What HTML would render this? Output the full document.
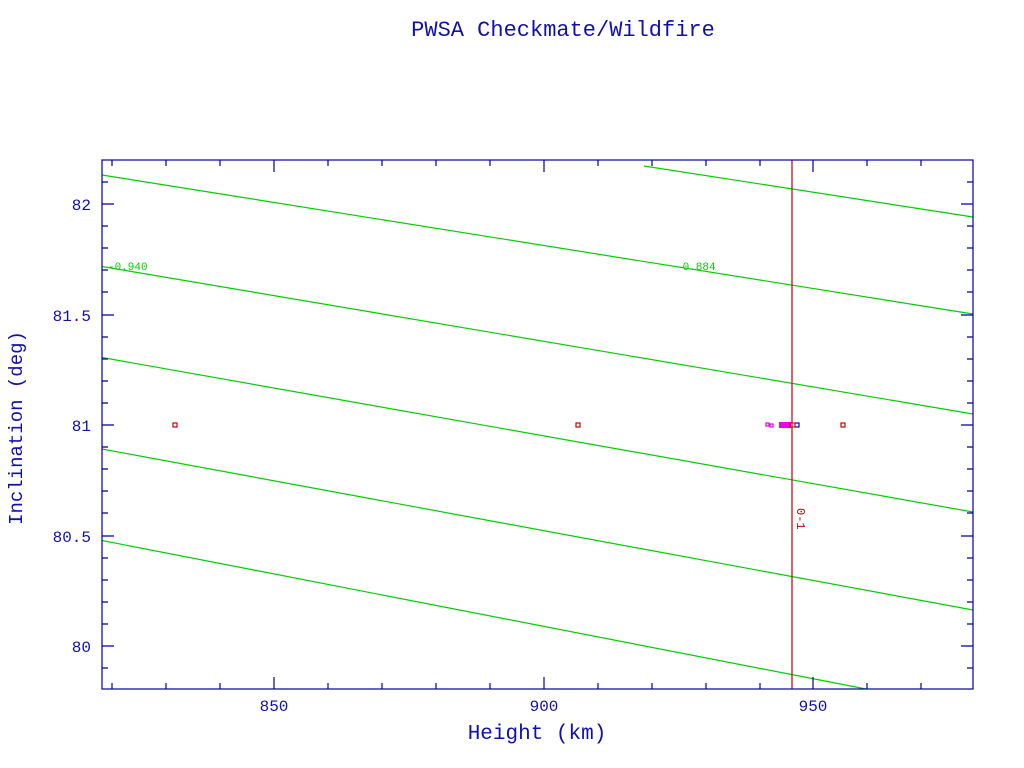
<!DOCTYPE html>
<html><head><style>body{margin:0;background:#fff}svg{display:block}</style></head><body>
<svg width="1024" height="768" xmlns="http://www.w3.org/2000/svg" font-family="Liberation Mono, DejaVu Sans Mono, monospace">
<rect width="1024" height="768" fill="#fff"/>
<text x="563" y="36" fill="#1010b0" font-size="22" text-anchor="middle">PWSA Checkmate/Wildfire</text>
<g stroke="#00d000" stroke-width="1.2" fill="none">
<line x1="102" y1="175" x2="973" y2="314"/>
<line x1="102" y1="266.5" x2="973" y2="414"/>
<line x1="102" y1="357.5" x2="973" y2="512"/>
<line x1="102" y1="449" x2="973" y2="610"/>
<line x1="102" y1="540.5" x2="866" y2="689"/>
<line x1="644" y1="166" x2="973" y2="217"/>
</g>
<g fill="#00d000" font-size="11"><text x="108" y="270">-0.940</text><text x="676" y="270">-0.884</text></g>
<line x1="792" y1="160" x2="792" y2="689" stroke="#c00000" stroke-width="1.2"/>
<text transform="translate(797,508) rotate(90)" fill="#c00000" font-size="12">0-1</text>
<g fill="none" stroke-width="1.2">
<rect x="173" y="423" width="4" height="4" stroke="#d00000"/>
<rect x="576" y="423" width="4" height="4" stroke="#d00000"/>
<rect x="841" y="423" width="4" height="4" stroke="#d00000"/>
<rect x="766" y="423" width="3" height="3" stroke="#e000e0"/>
<rect x="770" y="424" width="3" height="3" stroke="#e000e0"/>
<rect x="795" y="423" width="4" height="4" stroke="#0000c0"/>
</g>
<rect x="779" y="422" width="12" height="6" fill="#f000f0"/>
<rect x="790" y="423" width="5" height="4" fill="none" stroke="#d00000"/>
<rect x="102" y="160" width="871" height="529" fill="none" stroke="#0000a0" stroke-width="1.2"/>
<g stroke="#0000a0" stroke-width="1.2">
<path d="M112,689v-6M166,689v-6M220,689v-6M274,689v-12M328,689v-6M382,689v-6M436,689v-6M490,689v-6M544,689v-12M598,689v-6M652,689v-6M706,689v-6M760,689v-6M813,689v-12M867,689v-6M921,689v-6
M112,160v6M166,160v6M220,160v6M274,160v12M328,160v6M382,160v6M436,160v6M490,160v6M544,160v12M598,160v6M652,160v6M706,160v6M760,160v6M813,160v12M867,160v6M921,160v6
M102,182h6M102,204h12M102,226h6M102,248h6M102,270h6M102,292h6M102,315h12M102,337h6M102,359h6M102,381h6M102,403h6M102,425h12M102,447h6M102,469h6M102,491h6M102,513h6M102,536h12M102,558h6M102,580h6M102,602h6M102,624h6M102,646h12M102,668h6
M973,182h-6M973,204h-12M973,226h-6M973,248h-6M973,270h-6M973,292h-6M973,315h-12M973,337h-6M973,359h-6M973,381h-6M973,403h-6M973,425h-12M973,447h-6M973,469h-6M973,491h-6M973,513h-6M973,536h-12M973,558h-6M973,580h-6M973,602h-6M973,624h-6M973,646h-12M973,668h-6"/>
</g>
<g fill="#1010b0" font-size="16">
<g text-anchor="end"><text x="91" y="210">82</text><text x="91" y="321">81.5</text><text x="91" y="431">81</text><text x="91" y="542">80.5</text><text x="91" y="652">80</text></g>
<g text-anchor="middle"><text x="274" y="711">850</text><text x="544" y="711">900</text><text x="813" y="711">950</text></g>
</g>
<text x="537" y="739" fill="#1010b0" font-size="21" text-anchor="middle">Height (km)</text>
<text transform="translate(22,428) rotate(-90)" fill="#1010b0" font-size="19" text-anchor="middle">Inclination (deg)</text>
</svg>
</body></html>
